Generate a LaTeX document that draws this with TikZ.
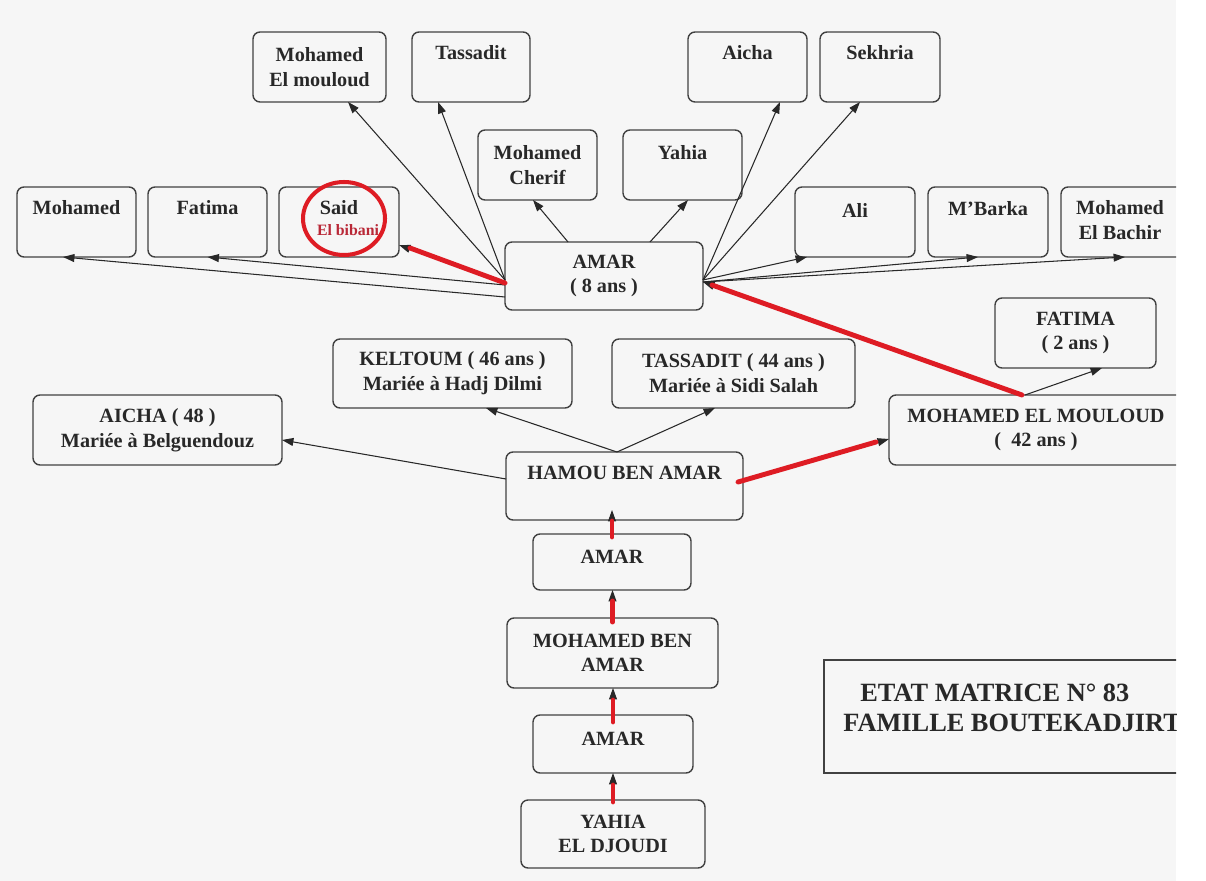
\documentclass[tikz,border=0pt]{standalone}
\usepackage{fontspec}
\setmainfont{Liberation Serif}
\usetikzlibrary{arrows.meta,fit,calc}
\definecolor{ink}{RGB}{40,40,40}
\definecolor{frame}{RGB}{65,65,65}
\definecolor{mark}{RGB}{222,28,36}
\definecolor{markt}{RGB}{185,40,55}
\definecolor{paper}{RGB}{246,246,246}
\begin{document}
\begin{tikzpicture}[x=0.02cm,y=-0.02cm,
 box/.style={draw=frame,line width=0.8pt,rounded corners=4pt,inner sep=0pt,outer sep=0pt},
 sbox/.style={draw=frame,line width=0.8pt,sharp corners,inner sep=0pt,outer sep=0pt},
 txt/.style={text=ink,font=\fontsize{11.5}{14}\selectfont\bfseries,align=center,inner sep=0pt},
 big/.style={text=ink,font=\fontsize{15}{18}\selectfont\bfseries,inner sep=0pt,anchor=west},
 arr/.style={draw=ink,line width=0.6pt,-{Triangle[length=6.5pt,width=4.5pt]}},
 redl/.style={draw=mark,line width=2.8pt,line cap=round},
]
\useasboundingbox (0,0) rectangle (1206,881);
\fill[white] (0,0) rectangle (1206,881);
\begin{scope}
\clip (0,0) rectangle (1176,881);
\fill[paper] (0,0) rectangle (1176,881);

% ---- boxes ----
\node[box, fit={(253,32) (386,102)}] (bMEM2) {};
\node[box, fit={(412,32) (530,102)}] (bTassadit) {};
\node[box, fit={(688,32) (807,102)}] (bAicha) {};
\node[box, fit={(820,32) (940,102)}] (bSekhria) {};
\node[box, fit={(478,130) (597,200)}] (bMCherif) {};
\node[box, fit={(623,130) (742,200)}] (bYahia) {};
\node[box, fit={(17,187) (136,257)}] (bMohamed) {};
\node[box, fit={(148,187) (267,257)}] (bFatima) {};
\node[box, fit={(279,187) (399,257)}] (bSaid) {};
\node[box, fit={(795,187) (915,257)}] (bAli) {};
\node[box, fit={(928,187) (1048,257)}] (bMBarka) {};
\node[box, fit={(1061,187) (1200,257)}] (bMEB) {};
\node[box, fit={(505,242) (703,310)}] (bAmar8) {};
\node[box, fit={(333,339) (572,408)}] (bKeltoum) {};
\node[box, fit={(612,339) (855,408)}] (bTassaditB) {};
\node[box, fit={(995,298) (1156,368)}] (bFatimaB) {};
\node[box, fit={(33,395) (282,465)}] (bAichaB) {};
\node[box, fit={(889,395) (1200,465)}] (bMEM) {};
\node[box, fit={(506,452) (743,520)}] (bHamou) {};
\node[box, fit={(533,534) (691,590)}] (bAmar1) {};
\node[box, fit={(507,618) (718,688)}] (bMBA) {};
\node[box, fit={(533,715) (693,773)}] (bAmar2) {};
\node[box, fit={(521,800) (705,868)}] (bYahiaED) {};
\node[sbox, fit={(824,660) (1200,773)}] (bEtat) {};

% ---- texts ----
\node[txt] (tMEM2) at (319.5,67) {Mohamed\\El mouloud};
\node[txt] (tTassadit) at (471,53) {Tassadit};
\node[txt] (tAicha) at (747.5,53) {Aicha};
\node[txt] (tSekhria) at (880,53) {Sekhria};
\node[txt] (tMCherif) at (537.5,165) {Mohamed\\Cherif};
\node[txt] (tYahia) at (682.5,153) {Yahia};
\node[txt] (tMohamed) at (76.5,208) {Mohamed};
\node[txt] (tFatima) at (207.5,208) {Fatima};
\node[txt] (tSaid) at (339,208) {Said};
\node[txt, text=markt, font=\fontsize{9}{11}\selectfont\bfseries] (tBibani) at (348,230) {El bibani};
\node[txt] (tAli) at (855,210) {Ali};
\node[txt] (tMBarka) at (988,209) {M’Barka};
\node[txt] (tMEB) at (1120,220) {Mohamed\\El Bachir};
\node[txt] (tAmar8) at (604,276) {AMAR\\( 8 ans )};
\node[txt] (tKeltoum) at (452.5,373) {KELTOUM ( 46 ans )\\Mariée à Hadj Dilmi};
\node[txt] (tTassaditB) at (733.5,373) {TASSADIT ( 44 ans )\\Mariée à Sidi Salah};
\node[txt] (tFatimaB) at (1075.5,333) {FATIMA\\( 2 ans )};
\node[txt] (tAichaB) at (157.5,430) {AICHA ( 48 )\\Mariée à Belguendouz};
\node[txt] (tMEM) at (1036,430) {MOHAMED EL MOULOUD\\(\ \ 42 ans )};
\node[txt] (tHamou) at (624.5,473) {HAMOU BEN AMAR};
\node[txt] (tAmar1) at (612,557) {AMAR};
\node[txt] (tMBA) at (612.5,653) {MOHAMED BEN\\AMAR};
\node[txt] (tAmar2) at (613,739) {AMAR};
\node[txt] (tYahiaED) at (613,834) {YAHIA\\EL DJOUDI};
\node[big] (tEtat1) at (860,693) {ETAT MATRICE N° 83};
\node[big] (tEtat2) at (843,723) {FAMILLE BOUTEKADJIRT};

% ---- connectors from AMAR (8 ans) ----
\draw[arr] ($(bAmar8.west)+(0,21)$) -- ($(bMohamed.south)+(-13.5,0)$);
\draw[arr] ($(bAmar8.west)+(0,9)$) -- (bFatima.south);
\draw[arr] ($(bAmar8.west)+(0,7)$) -- ($(bSaid.east)+(0,23)$);
\draw[arr] ($(bAmar8.west)+(0,4)$) -- ($(bMEM2.south)+(28.5,0)$);
\draw[arr] ($(bAmar8.west)+(0,4)$) -- ($(bTassadit.south)+(-33,0)$);
\draw[arr] ($(bAmar8.north)+(-36,0)$) -- ($(bMCherif.south)+(-4.5,0)$);
\draw[arr] ($(bAmar8.north)+(46,0)$) -- ($(bYahia.south)+(5.5,0)$);
\draw[arr] ($(bAmar8.east)+(0,4)$) -- ($(bAicha.south)+(32.5,0)$);
\draw[arr] ($(bAmar8.east)+(0,4)$) -- ($(bSekhria.south)+(-20,0)$);
\draw[arr] ($(bAmar8.east)+(0,4)$) -- ($(bAli.south west)+(12,0)$);
\draw[arr] ($(bAmar8.east)+(0,6)$) -- ($(bMBarka.south)+(-10,0)$);
\draw[arr] ($(bAmar8.east)+(0,6)$) -- ($(bMEB.south west)+(64,0)$);

% ---- connectors from HAMOU BEN AMAR ----
\draw[arr] ($(bHamou.north)+(-7.5,0)$) -- ($(bKeltoum.south)+(33.5,0)$);
\draw[arr] ($(bHamou.north)+(-7.5,0)$) -- ($(bTassaditB.south)+(-18.5,0)$);
\draw[arr] ($(bHamou.west)+(0,-7)$) -- ($(bAichaB.east)+(0,10)$);
\draw[arr] ($(bHamou.east)+(-5,-4)$) -- ($(bMEM.west)+(0,9)$);

% ---- from MOHAMED EL MOULOUD ----
\draw[arr] ($(bMEM.north west)+(136,0)$) -- ($(bFatimaB.south)+(26.5,0)$);
\draw[arr] ($(bMEM.north west)+(133,0)$) -- ($(bAmar8.east)+(0,6)$);

% ---- vertical lineage ----
\draw[arr] (bAmar1.north) -- ($(bAmar1.north |- bHamou.south)+(0,-10)$);
\draw[arr] (bMBA.north) -- (bMBA.north |- bAmar1.south);
\draw[arr] (bAmar2.north) -- (bAmar2.north |- bMBA.south);
\draw[arr] (bYahiaED.north) -- (bYahiaED.north |- bAmar2.south);

% ---- red marker overlays ----
\draw[redl] ($(bAmar8.west)+(0,7)$) -- ($(bSaid.east)+(11,26)$);
\draw[redl] ($(bMEM.north west)+(133,0)$) -- ($(bAmar8.east)+(9,9)$);
\draw[redl] ($(bHamou.east)+(-5,-4)$) -- ($(bMEM.west)+(-13,12)$);
\draw[redl] ($(bAmar1.north)+(0,3)$) -- ($(bAmar1.north |- bHamou.south)+(0,1)$);
\draw[redl] ($(bMBA.north)+(0,4)$) -- ($(bMBA.north |- bAmar1.south)+(0,11)$);
\draw[redl] ($(bAmar2.north)+(0,7)$) -- ($(bAmar2.north |- bMBA.south)+(0,12)$);
\draw[redl] ($(bYahiaED.north)+(0,2)$) -- ($(bYahiaED.north |- bAmar2.south)+(0,12)$);
\draw[draw=mark,line width=2.3pt] (344,218.5) ellipse [x radius=0.82cm, y radius=0.73cm];
\end{scope}
\end{tikzpicture}
\end{document}
